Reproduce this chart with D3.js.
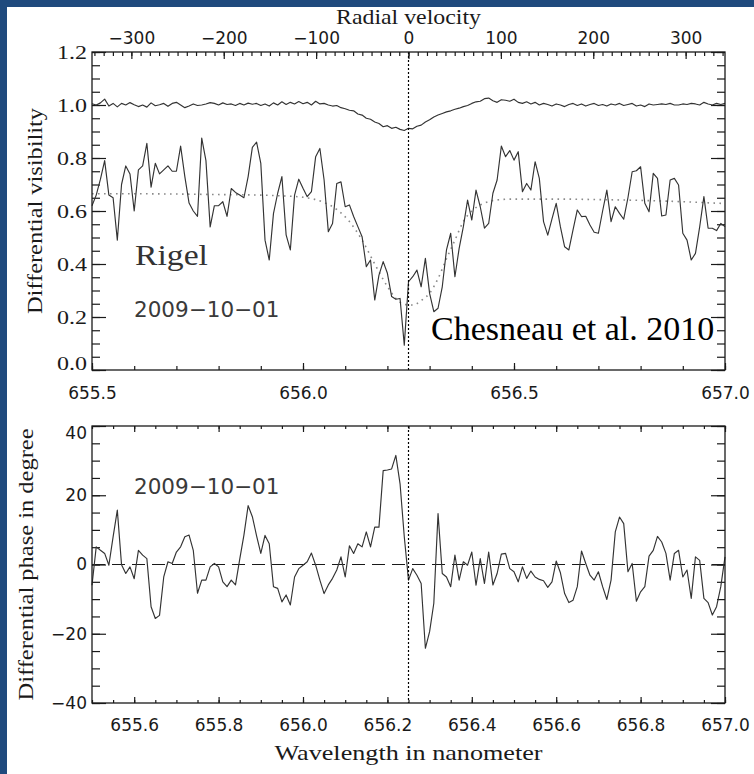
<!DOCTYPE html>
<html>
<head>
<meta charset="utf-8">
<script src="https://cdn.jsdelivr.net/npm/d3@7"></script>
<style>
  html, body { margin: 0; padding: 0; background: #1f4a7d; }
  svg { display: block; }
</style>
</head>
<body>
<script>
// Rigel, AMBER HR observation of 2009-10-01 around H-alpha.
// Spectral channels start at 655.50 nm and are spaced 0.01 nm apart.
const waveStart = 655.5;
const waveStep = 0.01;
const lambda0 = 656.25;           // line centre used for the velocity axis
const lightSpeed = 299792.458;    // km/s

// Differential visibility, first baseline (near 1, shallow dip in the line)
const visHigh = [
  1.005, 1.000, 1.008, 1.022, 0.996, 1.006, 0.993, 1.006, 1.000, 1.009,
  1.001, 0.994, 1.000, 0.992, 1.008, 0.997, 1.001, 1.006, 0.995, 1.006,
  1.010, 1.000, 0.990, 0.996, 1.004, 0.998, 1.000, 1.004, 1.009, 1.006,
  1.000, 1.008, 1.002, 1.004, 0.998, 1.006, 1.000, 1.007, 1.003, 1.006,
  0.998, 1.004, 0.996, 1.008, 1.000, 1.012, 1.002, 1.010, 1.004, 1.013,
  1.005, 1.010, 1.000, 1.014, 1.004, 1.006, 1.000, 0.996, 0.998, 0.990,
  0.986, 0.980, 0.978, 0.966, 0.962, 0.950, 0.946, 0.936, 0.930, 0.918,
  0.922, 0.912, 0.916, 0.908, 0.904, 0.912, 0.910, 0.920, 0.924, 0.936,
  0.944, 0.955, 0.962, 0.968, 0.974, 0.978, 0.984, 0.988, 0.994, 0.998,
  1.006, 1.012, 1.014, 1.024, 1.026, 1.016, 1.010, 1.020, 1.018, 1.014,
  1.022, 1.010, 1.006, 1.012, 1.004, 1.010, 1.000, 1.006, 1.002, 0.996,
  1.004, 1.000, 0.994, 1.002, 1.006, 0.998, 1.004, 0.996, 1.002, 1.006,
  0.998, 1.002, 0.996, 1.004, 1.000, 1.006, 0.998, 1.002, 1.006, 0.996,
  1.000, 0.994, 1.004, 1.000, 1.002, 1.004, 1.002, 1.006, 1.000, 1.000,
  1.004, 1.002, 1.006, 1.004, 1.000, 1.010, 1.004, 1.000, 1.006, 1.002,
  1.006
];

// Differential visibility, second baseline (noisy, deep dip in the line)
const visLow = [
  0.62, 0.66, 0.72, 0.79, 0.66, 0.65, 0.49, 0.70, 0.77, 0.74,
  0.60, 0.755, 0.77, 0.855, 0.69, 0.78, 0.74, 0.755, 0.77, 0.75,
  0.75, 0.845, 0.73, 0.63, 0.60, 0.58, 0.875, 0.79, 0.54, 0.62,
  0.62, 0.635, 0.58, 0.685, 0.67, 0.66, 0.65, 0.73, 0.84, 0.86,
  0.78, 0.49, 0.415, 0.59, 0.667, 0.73, 0.51, 0.453, 0.66, 0.72,
  0.686, 0.654, 0.673, 0.805, 0.836, 0.717, 0.522, 0.553, 0.704, 0.71,
  0.616, 0.623, 0.579, 0.541, 0.503, 0.39, 0.415, 0.264, 0.358, 0.409,
  0.365, 0.277, 0.267, 0.27, 0.094, 0.333, 0.352, 0.377, 0.314, 0.421,
  0.289, 0.22, 0.233, 0.314, 0.453, 0.516, 0.352, 0.459, 0.541, 0.641,
  0.566, 0.679, 0.616, 0.535, 0.553, 0.667, 0.717, 0.845, 0.805, 0.828,
  0.792, 0.824, 0.673, 0.704, 0.679, 0.786, 0.723, 0.56, 0.509, 0.57,
  0.629, 0.54, 0.465, 0.453, 0.53, 0.604, 0.579, 0.58, 0.547, 0.52,
  0.516, 0.60, 0.679, 0.56, 0.616, 0.591, 0.569, 0.65, 0.748, 0.752,
  0.767, 0.629, 0.597, 0.742, 0.723, 0.581, 0.585, 0.717, 0.723, 0.698,
  0.516, 0.49, 0.415, 0.44, 0.54, 0.654, 0.535, 0.535, 0.526, 0.553,
  0.541
];

// Model visibility for the second baseline
const modelWave = [
  655.50, 655.60, 655.70, 655.80, 655.90, 655.95, 656.00, 656.05, 656.08, 656.11,
  656.14, 656.17, 656.20, 656.22, 656.24, 656.26, 656.28, 656.30, 656.32, 656.34,
  656.36, 656.38, 656.40, 656.43, 656.46, 656.50, 656.60, 656.70, 656.80, 656.90,
  657.00
];
const modelVis = [
  0.665, 0.665, 0.664, 0.662, 0.660, 0.657, 0.652, 0.632, 0.606, 0.560,
  0.490, 0.400, 0.315, 0.270, 0.248, 0.245, 0.262, 0.290, 0.345, 0.420,
  0.490, 0.560, 0.600, 0.630, 0.642, 0.645, 0.645, 0.643, 0.640, 0.635,
  0.628
];

// Differential phase in degrees
const phase = [
  -6, 5.1, 4.1, 3.2, -0.2, 8, 15.7, -0.1, -2.6, -0.7,
  -4.1, 4.1, 2.7, 1.7, -12.2, -15.6, -14.7, -3.6, 0.8, 0.3,
  3.6, 5.1, 8.0, 8.5, 4.1, -8.3, -4.5, -4.5, -0.7, 0.3,
  -0.7, -5.0, -6.4, -4.5, -5.9, 1.5, 8.5, 17, 13.8, 8.3,
  3.2, 8.4, 6.0, -6.4, -6.9, -10.8, -8.8, -11.7, -3.6, -1.2,
  -0.2, 0.8, 3.3, -0.2, -4.5, -8.4, -5.9, -4.0, -1.6, 2.2,
  -3.6, 5.4, 3.2, 6.0, 5.1, 9.4, 5.1, 10.8, 10.8, 27.1,
  27.3, 27.6, 31.5, 23.3, 8, -4.5, -1.2, -3.1, -5.5, -24.2,
  -19.4, -11.2, 14.7, -2.6, -3.6, -6.4, 2.7, -4.5, 0.8, -0.2,
  3.6, -6.0, 1.7, -5.5, 3.6, -5.9, -2.6, 3.0, 3.2, -1.2,
  -2.1, -5.0, -0.7, -4.0, -1.9, -3.6, -4.3, -4.7, -6.6, -5.0,
  1.0, -2.4, -8.4, -11.0, -10.3, -6.4, 3.9, 0.3, -3.1, -4.5,
  -2.1, -6.4, -10.1, -4.5, 9.4, 13.7, 11.8, -2.1, 0.3, -10.6,
  -7.9, -6.4, 2.4, 4.1, 8.1, 6.5, 3.2, -4.5, 3.2, 4.1,
  -3.6, -1.6, -9.8, 2.2, 1.2, -9.8, -11.0, -14.6, -12.2, -6.4,
  2.2
];

// Tick values and labels
const visTicks = [0, 0.2, 0.4, 0.6, 0.8, 1.0, 1.2];
const visTickLabels = ["0.0", "0.2", "0.4", "0.6", "0.8", "1.0", "1.2"];
const waveTicksTop = [655.5, 656.0, 656.5, 657.0];
const waveTickLabelsTop = ["655.5", "656.0", "656.5", "657.0"];
const velTicks = [-300, -200, -100, 0, 100, 200, 300];
const velTickLabels = ["\u2212300", "\u2212200", "\u2212100", "0", "100", "200", "300"];
const phaseTicks = [-40, -20, 0, 20, 40];
const phaseTickLabels = ["\u221240", "\u221220", "0", "20", "40"];
const waveTicksBottom = [655.6, 655.8, 656.0, 656.2, 656.4, 656.6, 656.8, 657.0];
const waveTickLabelsBottom = ["655.6", "655.8", "656.0", "656.2", "656.4", "656.6", "656.8", "657.0"];

const W = 754, H = 774;
const wave = visLow.map((_, i) => waveStart + i * waveStep);

const svg = d3.select("body").append("svg").attr("width", W).attr("height", H);
svg.append("rect").attr("x", 7).attr("y", 7).attr("width", W - 7).attr("height", H - 7).attr("fill", "#ffffff");

const sans = "'DejaVu Sans', sans-serif";
const serif = "'Liberation Serif', serif";
const ink = "#1a1a1a";

const x = d3.scaleLinear().domain([655.5, 657.0]).range([92, 725]);
const yVis = d3.scaleLinear().domain([0, 1.2]).range([370, 52]);
const yPh = d3.scaleLinear().domain([-40, 40]).range([703, 426]);
const toVel = l => lightSpeed * (l - lambda0) / lambda0;
const xVel = d3.scaleLinear().domain([toVel(655.5), toVel(657.0)]).range([92, 725]);

function minorRange(a, b, step) {
  const out = [];
  const n = Math.round((b - a) / step);
  for (let k = 0; k <= n; k++) out.push(+(a + k * step).toFixed(6));
  return out;
}

function styleAxis(g, font, size) {
  g.select(".domain").remove();
  g.selectAll(".tick line").attr("stroke", ink).attr("stroke-width", 1.2);
  g.selectAll(".tick text").attr("fill", ink).style("font-family", font).style("font-size", size + "px");
  return g;
}

function drawAxis(axis, tx, ty, font, size) {
  const g = svg.append("g").attr("transform", `translate(${tx},${ty})`).call(axis);
  return styleAxis(g, font, size);
}

// wide serif title, stretched to the width the title occupies
function title(tx, ty, rot, str, size, len) {
  return svg.append("text")
    .attr("transform", `translate(${tx},${ty})` + (rot ? ` rotate(${rot})` : ""))
    .attr("text-anchor", "middle")
    .attr("textLength", len).attr("lengthAdjust", "spacingAndGlyphs")
    .style("font-family", serif).style("font-size", size + "px")
    .attr("fill", ink).text(str);
}

// ---------- Upper panel: differential visibility ----------
const topX0 = 92, topX1 = 725, topY0 = 52, topY1 = 370;

// left axis
drawAxis(d3.axisLeft(yVis).tickValues(minorRange(0, 1.2, 0.05)).tickSize(-8).tickFormat(""), topX0, 0);
const visLeft = drawAxis(d3.axisLeft(yVis).tickValues(visTicks).tickSize(-14).tickPadding(5)
  .tickFormat((d, i) => visTickLabels[i]), topX0, 0, serif, 19);
visLeft.selectAll(".tick text").attr("textLength", 30).attr("lengthAdjust", "spacingAndGlyphs");
visLeft.selectAll(".tick text").filter(d => d === 0).attr("dy", "-0.05em");
// right axis
drawAxis(d3.axisRight(yVis).tickValues(minorRange(0, 1.2, 0.05)).tickSize(-8).tickFormat(""), topX1, 0);
drawAxis(d3.axisRight(yVis).tickValues(visTicks).tickSize(-14).tickFormat(""), topX1, 0);
// bottom wavelength axis
drawAxis(d3.axisBottom(x).tickValues(minorRange(655.5, 657.0, 0.1)).tickSize(-4).tickFormat(""), 0, topY1);
drawAxis(d3.axisBottom(x).tickValues(waveTicksTop).tickSize(-7).tickPadding(17)
  .tickFormat((d, i) => waveTickLabelsTop[i]), 0, topY1, sans, 17);
// top radial velocity axis
const velMinor = minorRange(-340, 340, 10);
drawAxis(d3.axisTop(xVel).tickValues(velMinor).tickSize(-4).tickFormat(""), 0, topY0);
drawAxis(d3.axisTop(xVel).tickValues(velTicks).tickSize(-7).tickPadding(8)
  .tickFormat((d, i) => velTickLabels[i]), 0, topY0, sans, 17);

// model curve (dotted grey)
svg.append("path")
  .datum(modelVis)
  .attr("fill", "none")
  .attr("stroke", "#8a8a8a")
  .attr("stroke-width", 1.6)
  .attr("stroke-dasharray", "1.6,4.4")
  .attr("d", d3.line().x((d, i) => x(modelWave[i])).y(d => yVis(d)).curve(d3.curveMonotoneX));

// measured visibilities
const visLine = d3.line().x((d, i) => x(wave[i])).y(d => yVis(d));
svg.append("path").datum(visHigh).attr("fill", "none").attr("stroke", "#333")
  .attr("stroke-width", 1.15).attr("stroke-linejoin", "round").attr("d", visLine);
svg.append("path").datum(visLow).attr("fill", "none").attr("stroke", "#333")
  .attr("stroke-width", 1.15).attr("stroke-linejoin", "round").attr("d", visLine);

// line centre marker
svg.append("line").attr("x1", x(lambda0)).attr("x2", x(lambda0)).attr("y1", topY0).attr("y2", topY1)
  .attr("stroke", "#000").attr("stroke-width", 1.2).attr("stroke-dasharray", "2,2");

// frame
svg.append("rect").attr("x", topX0).attr("y", topY0).attr("width", topX1 - topX0).attr("height", topY1 - topY0)
  .attr("fill", "none").attr("stroke", ink).attr("stroke-width", 1.3);

// titles and annotations
title(x(lambda0), 24, 0, "Radial velocity", 21, 145);
title(42, (topY0 + topY1) / 2, -90, "Differential visibility", 21.5, 206);
svg.append("text").attr("x", 135).attr("y", 265)
  .attr("textLength", 73).attr("lengthAdjust", "spacingAndGlyphs")
  .style("font-family", serif).style("font-size", "29px")
  .attr("fill", "#333").text("Rigel");
svg.append("text").attr("x", 134).attr("y", 317).style("font-family", sans).style("font-size", "21.5px")
  .attr("fill", "#3a3a3a").text("2009\u221210\u221201");
svg.append("text").attr("x", 431).attr("y", 340).style("font-family", serif)
  .style("font-size", "34px").attr("fill", "#000").text("Chesneau et al. 2010");

// ---------- Lower panel: differential phase ----------
const botY0 = 426, botY1 = 703;

drawAxis(d3.axisLeft(yPh).tickValues(minorRange(-40, 40, 5)).tickSize(-8).tickFormat(""), topX0, 0);
const phLeft = drawAxis(d3.axisLeft(yPh).tickValues(phaseTicks).tickSize(-14).tickPadding(5)
  .tickFormat((d, i) => phaseTickLabels[i]), topX0, 0, sans, 17);
phLeft.selectAll(".tick text").filter(d => d === 40).attr("dy", "0.72em");
drawAxis(d3.axisRight(yPh).tickValues(minorRange(-40, 40, 5)).tickSize(-8).tickFormat(""), topX1, 0);
drawAxis(d3.axisRight(yPh).tickValues(phaseTicks).tickSize(-14).tickFormat(""), topX1, 0);
drawAxis(d3.axisBottom(x).tickValues(minorRange(655.5, 657.0, 0.05)).tickSize(-3).tickFormat(""), 0, botY1);
drawAxis(d3.axisBottom(x).tickValues(waveTicksBottom).tickSize(-6).tickPadding(16)
  .tickFormat((d, i) => waveTickLabelsBottom[i]), 0, botY1, sans, 17);
drawAxis(d3.axisTop(x).tickValues(minorRange(655.5, 657.0, 0.05)).tickSize(-3).tickFormat(""), 0, botY0);
drawAxis(d3.axisTop(x).tickValues(waveTicksBottom).tickSize(-6).tickFormat(""), 0, botY0);

// zero level
svg.append("line").attr("x1", topX0).attr("x2", topX1).attr("y1", yPh(0)).attr("y2", yPh(0))
  .attr("stroke", ink).attr("stroke-width", 1.2).attr("stroke-dasharray", "13,7");

// measured phase
svg.append("path").datum(phase).attr("fill", "none").attr("stroke", "#333")
  .attr("stroke-width", 1.15).attr("stroke-linejoin", "round")
  .attr("d", d3.line().x((d, i) => x(wave[i])).y(d => yPh(d)));

svg.append("line").attr("x1", x(lambda0)).attr("x2", x(lambda0)).attr("y1", botY0).attr("y2", botY1)
  .attr("stroke", "#000").attr("stroke-width", 1.2).attr("stroke-dasharray", "2,2");

svg.append("rect").attr("x", topX0).attr("y", botY0).attr("width", topX1 - topX0).attr("height", botY1 - botY0)
  .attr("fill", "none").attr("stroke", ink).attr("stroke-width", 1.3);

title(33, (botY0 + botY1) / 2, -90, "Differential phase in degree", 21, 272);
svg.append("text").attr("x", 134).attr("y", 494).style("font-family", sans).style("font-size", "21.5px")
  .attr("fill", "#3a3a3a").text("2009\u221210\u221201");
title(x(lambda0), 760, 0, "Wavelength in nanometer", 21, 268);
</script>
</body>
</html>
